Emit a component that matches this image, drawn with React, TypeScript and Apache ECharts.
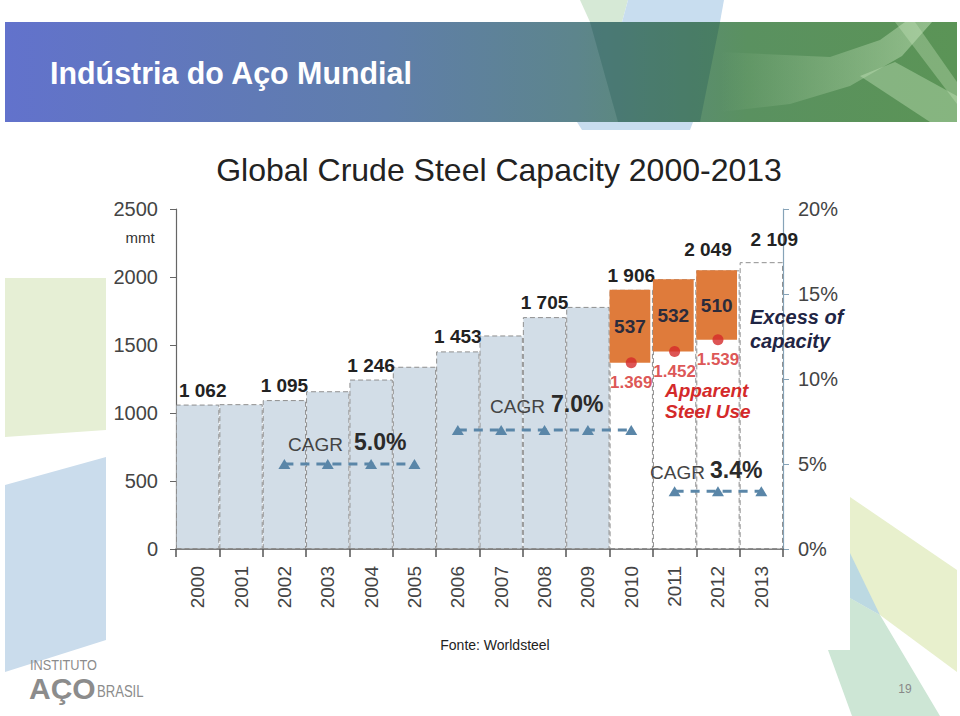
import React, { useEffect, useRef } from "react";
import * as echarts from "echarts";

// ---------- data ----------
const years = ["2000", "2001", "2002", "2003", "2004", "2005", "2006", "2007", "2008", "2009", "2010", "2011", "2012", "2013"];
const capacity = [1062, 1065, 1095, 1160, 1246, 1340, 1453, 1570, 1705, 1780, 1906, 1984, 2049, 2109];
const labeledYears = ["2000", "2002", "2004", "2006", "2008", "2010", "2012", "2013"];
const recentYears = ["2010", "2011", "2012", "2013"];
const apparentYears = ["2010", "2011", "2012"];
const apparentUse = [1369, 1452, 1539];
const excessCapacity = [537, 532, 510];
const cagrValues = [5.0, 7.0, 3.4];
const cagrYears = [
  ["2002", "2003", "2004", "2005"],
  ["2006", "2007", "2008", "2009", "2010"],
  ["2011", "2012", "2013"],
];
const leftTicks = { min: 0, max: 2500, interval: 500 };
const rightTicks = { min: 0, max: 20, interval: 5 };

// ---------- styling ----------
const FONT = '"Liberation Sans", Arial, sans-serif';
const labelShift: Record<string, number[]> = { "2000": [5, 0], "2012": [-10, -6], "2013": [13, -8] };

const fmtCap = (v: number) => `${Math.floor(v / 1000)} ${String(v % 1000).padStart(3, "0")}`;
const fmtUse = (v: number) => `${Math.floor(v / 1000)}.${String(v % 1000).padStart(3, "0")}`;

function txt(text: string, x: number, y: number, o: any = {}) {
  return {
    type: "text",
    z: o.z ?? 100,
    x: o.sx ? x : undefined,
    scaleX: o.sx,
    style: {
      text,
      x: o.sx ? 0 : x,
      y,
      fill: o.fill ?? "#222",
      fontSize: o.size ?? 16,
      fontWeight: o.weight ?? "normal",
      fontStyle: o.style ?? "normal",
      fontFamily: o.family ?? FONT,
      textAlign: o.align ?? "left",
      textVerticalAlign: "middle",
    },
  };
}

function poly(points: number[][], fill: any, z = 0) {
  return { type: "polygon", z, silent: true, shape: { points }, style: { fill } };
}

function buildOption() {
  const capData = years.map((y, i) => ({
    value: capacity[i],
    itemStyle: { color: recentYears.includes(y) ? "#ffffff" : "#d2dde7" },
    label: { show: labeledYears.includes(y), offset: labelShift[y] || [0, 0] },
  }));
  const baseData = years.map((y) => {
    const k = apparentYears.indexOf(y);
    return k >= 0 ? apparentUse[k] : "-";
  });
  const excessData = years.map((y) => {
    const k = apparentYears.indexOf(y);
    return k >= 0 ? excessCapacity[k] : "-";
  });

  const cagrSeries = cagrValues.map((v, k) => ({
    type: "line",
    yAxisIndex: 1,
    z: 6,
    data: years.map((y) => (cagrYears[k].includes(y) ? v : "-")),
    symbol: "triangle",
    symbolSize: [12, 10],
    showAllSymbol: true,
    itemStyle: { color: "#5a86a8" },
    lineStyle: { color: "#5a86a8", width: 3, type: [9, 7] },
  }));

  const banner = [
    {
      type: "rect",
      z: 0,
      silent: true,
      shape: { x: 5, y: 22, width: 952, height: 100 },
      style: {
        fill: new echarts.graphic.LinearGradient(0, 0, 1, 0, [
          { offset: 0, color: "#6272cc" },
          { offset: 0.4, color: "#5f7eaa" },
          { offset: 0.6, color: "#5d858c" },
          { offset: 0.78, color: "#5a9160" },
          { offset: 1, color: "#5b9456" },
        ]),
      },
    },
    poly([[580, 0], [628, 0], [622, 22], [590, 22]], "#d6e9d6", 1),
    poly([[628, 0], [724, 0], [720, 22], [622, 22]], "#c8ddef", 1),
    poly([[590, 22], [720, 22], [700, 122], [618, 122]], "rgba(40,95,90,0.35)", 1),
    poly([[577, 122], [693, 122], [690, 130], [582, 130]], "#c8ddef", 1),
    poly(
      [[720, 52], [830, 57], [880, 40], [905, 22], [932, 22], [902, 56], [850, 86], [790, 104], [720, 112]],
      new echarts.graphic.LinearGradient(0, 0, 1, 0, [
        { offset: 0, color: "rgba(200,230,190,0)" },
        { offset: 1, color: "rgba(200,230,190,0.5)" },
      ]),
      1
    ),
    poly([[860, 76], [895, 62], [957, 96], [957, 122], [930, 122]], "rgba(200,230,190,0.4)", 1),
    poly([[895, 22], [915, 22], [957, 82], [957, 104]], "rgba(200,230,190,0.35)", 1),
    txt("Indústria do Aço Mundial", 50, 73, { size: 32, weight: "bold", fill: "#ffffff", sx: 0.95, z: 5 }),
  ];

  const decor = [
    poly([[5, 278], [106, 278], [106, 430], [5, 437]], "#e6efd5"),
    poly([[5, 485], [106, 457], [106, 640], [5, 672]], "#cadcec"),
    poly([[850, 497], [957, 570], [957, 672], [880, 615], [850, 598]], "#e8f0cd"),
    poly([[850, 598], [880, 615], [940, 716], [852, 716], [828, 650], [850, 650]], "#cde6d5"),
    poly([[850, 553], [880, 615], [850, 598]], "#bcd9e2"),
  ];

  const notes = [
    txt("Global Crude Steel Capacity 2000-2013", 499, 170, { size: 32, align: "center", fill: "#222" }),
    txt("mmt", 140, 237, { size: 15, align: "center", fill: "#333" }),
    txt("CAGR", 288, 444, { size: 19, fill: "#444" }),
    txt("5.0%", 354, 442, { size: 23, weight: "bold", fill: "#2a2a2a" }),
    txt("CAGR", 490, 406, { size: 19, fill: "#444" }),
    txt("7.0%", 551, 404, { size: 23, weight: "bold", fill: "#2a2a2a" }),
    txt("CAGR", 650, 472, { size: 19, fill: "#444" }),
    txt("3.4%", 710, 470, { size: 23, weight: "bold", fill: "#2a2a2a" }),
    txt("Excess of", 750, 317, { size: 20, weight: "bold", style: "italic", fill: "#1f2544" }),
    txt("capacity", 750, 341, { size: 20, weight: "bold", style: "italic", fill: "#1f2544" }),
    txt("Apparent", 665, 390, { size: 19, weight: "bold", style: "italic", fill: "#d42a2a" }),
    txt("Steel Use", 665, 411, { size: 19, weight: "bold", style: "italic", fill: "#d42a2a" }),
    txt("Fonte: Worldsteel", 495, 645, { size: 14, align: "center", fill: "#222" }),
    txt("INSTITUTO", 30, 665, { size: 15, fill: "#8c8c8c", sx: 0.85 }),
    txt("AÇO", 29, 688, { size: 30, weight: "bold", fill: "#8c8c8c" }),
    txt("BRASIL", 97, 691, { size: 17, fill: "#8c8c8c", sx: 0.77 }),
    txt("19", 905, 689, { size: 12, align: "center", fill: "#888" }),
  ];

  return {
    animation: false,
    backgroundColor: "#ffffff",
    textStyle: { fontFamily: FONT },
    grid: { left: 176, right: 177, top: 209, bottom: 167, containLabel: false, outerBoundsMode: "none" },
    xAxis: {
      type: "category",
      data: years,
      boundaryGap: true,
      axisLine: { lineStyle: { color: "#555", width: 1.5 } },
      axisTick: { show: true, alignWithLabel: false, length: 8, lineStyle: { color: "#555", width: 1.5 } },
      axisLabel: { interval: 0, rotate: 90, margin: 17, fontSize: 19, color: "#444", fontFamily: FONT },
      splitLine: { show: false },
    },
    yAxis: [
      {
        type: "value",
        ...leftTicks,
        position: "left",
        axisLine: { show: true, lineStyle: { color: "#666", width: 1.2 } },
        axisTick: { show: true, length: 6, lineStyle: { color: "#666" } },
        axisLabel: { margin: 18, fontSize: 20, color: "#444", fontFamily: FONT, formatter: (v: number) => String(v) },
        splitLine: { show: false },
      },
      {
        type: "value",
        ...rightTicks,
        position: "right",
        axisLine: { show: true, lineStyle: { color: "#86a3b8", width: 1.2 } },
        axisTick: { show: true, length: 6, lineStyle: { color: "#86a3b8" } },
        axisLabel: { margin: 15, fontSize: 20, color: "#444", fontFamily: FONT, formatter: (v: number) => `${v}%` },
        splitLine: { show: false },
      },
    ],
    series: [
      {
        type: "bar",
        stack: "excess",
        barWidth: "94%",
        barGap: "-100%",
        z: 2,
        silent: true,
        itemStyle: { color: "rgba(0,0,0,0)" },
        data: baseData,
      },
      {
        type: "bar",
        stack: "excess",
        barWidth: "94%",
        barGap: "-100%",
        z: 3,
        itemStyle: { color: "#df7b3b" },
        label: {
          show: true,
          position: "inside",
          fontSize: 19,
          fontWeight: "bold",
          color: "#2b2b3b",
          fontFamily: FONT,
        },
        data: excessData,
      },
      {
        type: "bar",
        barWidth: "100%",
        barGap: "-100%",
        z: 2,
        itemStyle: { borderColor: "#8f8f8f", borderWidth: 1, borderType: [5, 3] },
        label: {
          position: "top",
          distance: 5,
          fontSize: 19,
          fontWeight: "bold",
          color: "#222",
          fontFamily: FONT,
          formatter: (p: any) => fmtCap(p.value),
        },
        data: capData,
      },
      {
        type: "scatter",
        z: 5,
        symbolSize: 11,
        itemStyle: { color: "#d42a2a" },
        label: {
          show: true,
          position: "bottom",
          distance: 6,
          fontSize: 17,
          fontWeight: "bold",
          color: "#d42a2a",
          fontFamily: FONT,
          formatter: (p: any) => fmtUse(p.value[1]),
        },
        data: apparentYears.map((y, i) => [y, apparentUse[i]]),
      },
      ...cagrSeries,
    ],
    graphic: [...decor, ...banner, ...notes],
  };
}

export default function App() {
  const ref = useRef<HTMLDivElement>(null);
  useEffect(() => {
    const chart = echarts.init(ref.current!, null, { renderer: "svg" });
    chart.setOption(buildOption() as any);
    return () => chart.dispose();
  }, []);
  return (
    <div
      ref={ref}
      style={{ position: "fixed", left: 0, top: 0, width: 960, height: 716, background: "#ffffff" }}
    />
  );
}
